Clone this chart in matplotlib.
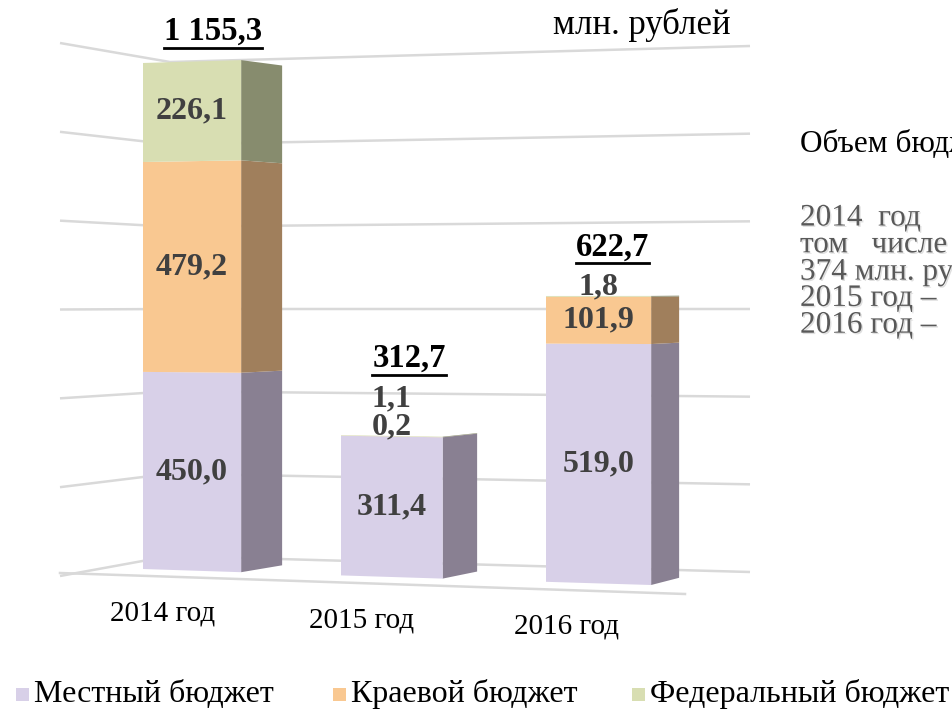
import matplotlib.pyplot as plt
from matplotlib.patches import Polygon, Rectangle
import matplotlib.patheffects as pe

# Budget volumes, mln rubles
years = ['2014 год', '2015 год', '2016 год']
local = [450.0, 311.4, 519.0]
regional = [479.2, 0.2, 101.9]
federal = [226.1, 1.1, 1.8]
totals = [1155.3, 312.7, 622.7]
series_names = ['Местный бюджет', 'Краевой бюджет', 'Федеральный бюджет']
grid_levels = [0, 200, 400, 600, 800, 1000, 1200]

front_colors = ['#d8d0e8', '#f9c891', '#d8deb2']
side_colors = ['#898092', '#a07f5c', '#878c6e']
label_color = '#404040'
grid_color = '#d9d9d9'

SERIF = 'Liberation Serif'

# perspective of the bar block: c = category coordinate, v = value, z = depth 0..1
HORIZON = 285.0
DEPTH = 0.976
BAR_W = 0.5


def project(c, v, z=0.0):
    x0 = 143 + 194.5 * c + 3.5 * c * c
    y0 = 569 + 6.4 * c - (0.438 + 0.0105 * c) * v
    side = 44.25 - 6.5 * c
    k = 1 - (1 - DEPTH) * z
    return x0 + side * z, HORIZON + k * (y0 - HORIZON)


# back walls (x, y at 0, y at top value) - corner view
WALL = [(60, 576, 43), (170, 556, 62), (750, 572, 46)]
WALL_TOP = 1200


def fmt(v):
    return f'{v:,.1f}'.replace(',', ' ').replace('.', ',')


fig = plt.figure(figsize=(9.52, 7.11), dpi=100)
ax = fig.add_axes([0, 0, 1, 1])
ax.set_xlim(0, 952)
ax.set_ylim(711, 0)
ax.axis('off')

# gridlines on the walls
for g in grid_levels:
    xs = [a[0] for a in WALL]
    ys = [a[1] + (a[2] - a[1]) * g / WALL_TOP for a in WALL]
    ax.plot(xs, ys, color=grid_color, lw=1.8, solid_capstyle='butt', zorder=1)
# front edge of the floor
ax.plot([60, 685], [573, 594], color=grid_color, lw=1.8, zorder=1)

series = [local, regional, federal]
for i in range(len(years)):
    cl, cr = i, i + BAR_W
    base = 0.0
    label_y = None
    top_y = None
    for s, vals in enumerate(series):
        v = vals[i]
        lo, hi = base, base + v
        front = [project(cl, lo), project(cr, lo), project(cr, hi), project(cl, hi)]
        side = [project(cr, lo), project(cr, lo, 1), project(cr, hi, 1), project(cr, hi)]
        ax.add_patch(Polygon(side, closed=True, facecolor=side_colors[s],
                             edgecolor='none', zorder=2))
        ax.add_patch(Polygon(front, closed=True, facecolor=front_colors[s],
                             edgecolor='none', zorder=3))
        # value label: centred on the segment, or stacked above when too thin
        xc = (project(cl, 0)[0] + project(cr, 0)[0]) / 2
        y_lo = project(cl + BAR_W / 2, lo)[1]
        y_hi = project(cl + BAR_W / 2, hi)[1]
        if y_lo - y_hi >= 25:
            ly = (y_lo + y_hi) / 2
        else:
            ly = y_lo - 10
            if label_y is not None:
                ly = min(ly, label_y - 28)
        label_y = ly
        ax.text(xc, ly, fmt(v), ha='center', va='center', fontsize=23,
                fontweight='bold', family=SERIF, color=label_color, zorder=5)
        top_y = y_hi
        base = hi

    # total above the bar, underlined
    xt = (project(cl, 0)[0] + project(cr, 0, 1)[0]) / 2
    yt = min(top_y, label_y - 10) - 30
    t = ax.text(xt, yt, fmt(totals[i]), ha='center', va='center', fontsize=23.5,
                fontweight='bold', family=SERIF, color='black', zorder=5)
    fig.canvas.draw()
    bb = t.get_window_extent().transformed(ax.transData.inverted())
    uy = max(bb.y0, bb.y1) + 1
    ax.plot([bb.x0, bb.x1], [uy, uy], color='black', lw=2, zorder=5)

    # category label under the floor
    xy = project(cl + 0.1, 0)
    ax.text(xy[0], xy[1] + 44, years[i], ha='center', va='center', fontsize=21,
            family=SERIF, color='black')

ax.text(553, 25, 'млн. рублей', ha='left', va='center', fontsize=25,
        family=SERIF, color='black')

# description block on the right (runs off the edge)
shadow = [pe.withSimplePatchShadow(offset=(1, -1), shadow_rgbFace='#b8b8b8', alpha=0.45)]
ax.text(800, 145, 'Объем бюджета', ha='left', va='center', fontsize=22.5,
        family=SERIF, color='black')
side_lines = ['2014  год', 'том   числе', '374 млн. руб.', '2015 год –', '2016 год –']
for k, line in enumerate(side_lines):
    ax.text(800, 218 + 26.8 * k, line, ha='left', va='center', fontsize=22.5,
            family=SERIF, color='#595959', path_effects=shadow)

# legend
leg_x = [16, 333, 632]
for s, name in enumerate(series_names):
    ax.add_patch(Rectangle((leg_x[s], 688), 13, 13, facecolor=front_colors[s],
                           edgecolor='none'))
    ax.text(leg_x[s] + 18, 694, name, ha='left', va='center', fontsize=23,
            family=SERIF, color='black')

fig.savefig('out.png', dpi=100)
